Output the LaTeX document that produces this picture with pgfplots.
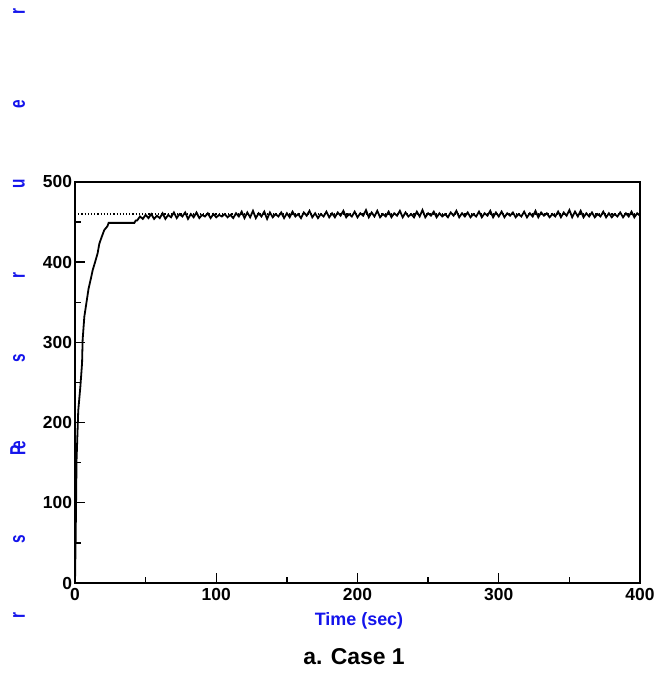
\documentclass[border=0pt]{standalone}
\usepackage{pgfplots}
\pgfplotsset{compat=1.18}
\usepackage{fontspec}
\setmainfont{Liberation Sans}
\definecolor{lblblue}{RGB}{20,20,235}
\newcommand{\yl}[1]{\scalebox{0.7}[1]{#1}}
\begin{document}
\begin{tikzpicture}[x=1bp,y=1bp]
\useasboundingbox (0,0) rectangle (659,674);
\begin{axis}[
  at={(75bp,91bp)}, anchor=south west, scale only axis,
  width=565bp, height=401bp,
  xmin=0, xmax=400, ymin=0, ymax=500,
  axis line style={line width=2bp},
  xtick={0,100,...,400}, ytick={0,100,...,500},
  minor xtick={50,150,250,350}, minor ytick={50,150,...,450},
  tick align=inside, major tick length=9.5bp, minor tick length=5.5bp,
  every tick/.style={line width=1.4bp, black},
  xtick pos=bottom, ytick pos=left,
  /pgf/number format/assume math mode=true,
  tick label style={font=\bfseries\fontsize{17.5}{18}\selectfont},
  xticklabel style={yshift=-1.5bp},
  yticklabel style={xshift=0.5bp},
]
\addplot[black, dotted, line width=1.2bp] coordinates {(0,460) (400,460)};
\addplot[black, line width=1.8bp] coordinates {
(0,0) (0.5,60) (1.1,153) (2.3,215) (3.8,245) (5,274) (5.4,303) (6.6,332)
(9.6,367) (11.3,380) (12.5,390) (14.2,400) (16,411) (17.2,423) (18.8,431)
(20.7,440) (23,445) (23.8,449) (42,449) (43,452)
(44,452) (46,457) (48,454) (50,459) (52,455) (54,460) (56,454) (58,458) (60,455) (62,461)
(64,454) (66,459) (68,456) (70,462) (72,455) (74,460) (76,457) (78,462) (80,454) (82,460)
(84,456) (86,462) (88,455) (90,459) (92,457) (94,461) (96,455) (98,460) (100,456) (102,459)
(104,457) (106,460) (108,456) (110,459) (112,455) (114,461) (116,457) (118,463) (120,455) (122,462)
(124,456) (126,464) (128,455) (130,461) (132,457) (134,463) (136,454) (138,462) (140,456) (142,460)
(144,457) (146,462) (148,455) (150,461) (152,456) (154,463) (156,457) (158,460) (160,455) (162,462)
(164,458) (166,464) (168,456) (170,461) (172,455) (174,460) (176,457) (178,463) (180,456) (182,461)
(184,456) (186,462) (188,458) (190,464) (192,456) (194,460) (196,457) (198,463) (200,456) (202,461)
(204,458) (206,465) (208,456) (210,462) (212,457) (214,464) (216,456) (218,460) (220,457) (222,463)
(224,456) (226,461) (228,458) (230,464) (232,456) (234,462) (236,457) (238,460) (240,456) (242,463)
(244,457) (246,465) (248,456) (250,461) (252,458) (254,463) (256,456) (258,461) (260,457) (262,460)
(264,456) (266,462) (268,458) (270,464) (272,456) (274,461) (276,457) (278,462) (280,456) (282,460)
(284,457) (286,463) (288,456) (290,461) (292,458) (294,464) (296,456) (298,462) (300,457) (302,463)
(304,456) (306,461) (308,458) (310,462) (312,456) (314,460) (316,457) (318,463) (320,456) (322,461)
(324,457) (326,464) (328,456) (330,462) (332,458) (334,461) (336,456) (338,460) (340,457) (342,463)
(344,456) (346,462) (348,458) (350,465) (352,456) (354,463) (356,457) (358,464) (360,456) (362,461)
(364,457) (366,462) (368,456) (370,460) (372,457) (374,463) (376,456) (378,461) (380,456) (382,460)
(384,457) (386,462) (388,456) (390,461) (392,457) (394,463) (396,456) (398,461) (400,458)
};
\end{axis}
\begin{scope}[every node/.style={text=lblblue, font=\bfseries\fontsize{22}{22}\selectfont, rotate=90, inner sep=0pt}]
\node at (19,662) {\yl{r}};
\node at (19,570) {\yl{e}};
\node at (19,490) {\yl{u}};
\node at (19,398) {\yl{r}};
\node at (19,316) {\yl{s}};
\node at (18,226) {\yl{P\kern-0.3em e}};
\node at (19,135) {\yl{s}};
\node at (19,58) {\yl{r}};
\end{scope}
\node[text=lblblue, font=\bfseries\fontsize{18}{18}\selectfont] at (359,53) {Time (sec)};
\node[font=\bfseries\fontsize{23}{23}\selectfont] at (354,17) {a. Case 1};
\end{tikzpicture}
\end{document}
